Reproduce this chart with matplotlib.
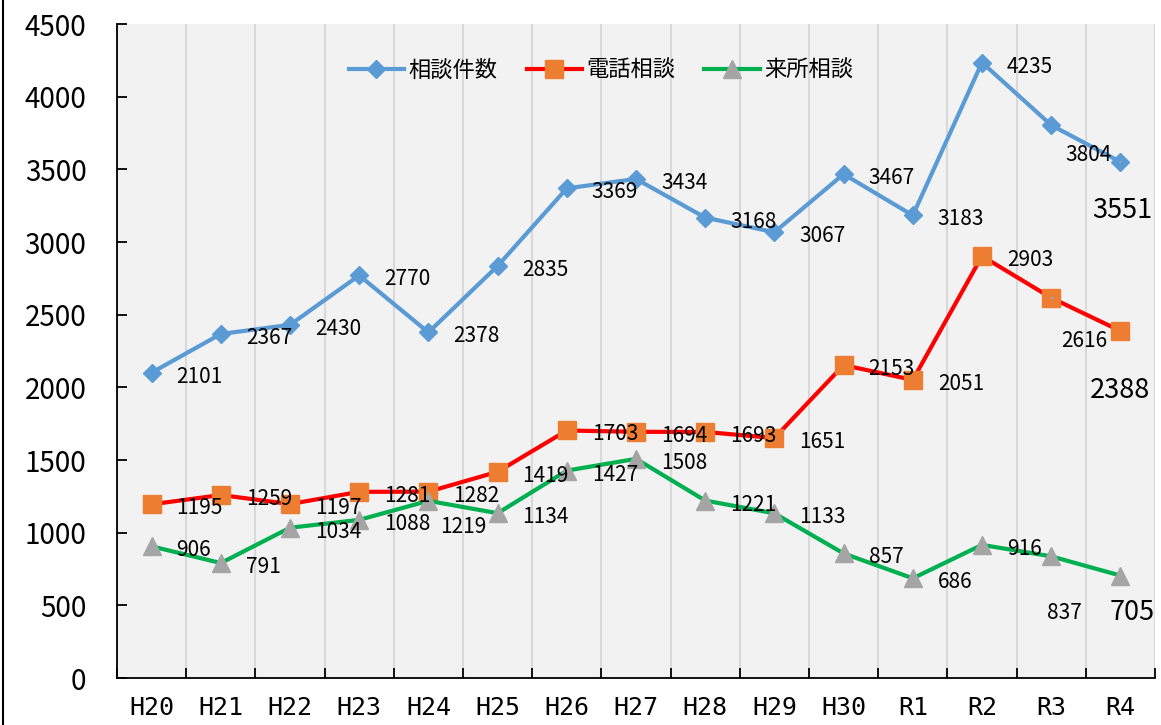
import numpy as np
import matplotlib
matplotlib.use("Agg")
import matplotlib.pyplot as plt
from matplotlib.lines import Line2D

plt.rcParams["font.family"] = ["Noto Sans CJK JP", "DejaVu Sans"]

years = ["H20", "H21", "H22", "H23", "H24", "H25", "H26", "H27", "H28", "H29",
         "H30", "R1", "R2", "R3", "R4"]
total = [2101, 2367, 2430, 2770, 2378, 2835, 3369, 3434, 3168, 3067, 3467, 3183, 4235, 3804, 3551]
phone = [1195, 1259, 1197, 1281, 1282, 1419, 1703, 1694, 1693, 1651, 2153, 2051, 2903, 2616, 2388]
visit = [906, 791, 1034, 1088, 1219, 1134, 1427, 1508, 1221, 1133, 857, 686, 916, 837, 705]
names = ["相談件数", "電話相談", "来所相談"]

# label placement exceptions: (dx, dy) in pixels of label centre, big font, leader (x0, y0, x1, y1)
special = {
    (0, 13): (37, -30, False, None),
    (0, 14): (2, -49, True, (0, -6, 2, -25)),
    (1, 13): (33, -43, False, (2, -3, 32, -21)),
    (1, 14): (0, -60, True, (0, -5, 0, -34)),
    (2, 4): (35, -26, False, None),
    (2, 13): (13, -57, False, (2, -8, 15, -35)),
    (2, 14): (12, -37, True, (2, -4, 12, -12)),
}

fig = plt.figure(figsize=(11.61, 7.25), dpi=100)
ax = fig.add_axes([117 / 1161, 1 - 678 / 725, (1155 - 117) / 1161, (678 - 24) / 725])
ax.set_facecolor("#f2f2f2")

x = np.arange(len(years))
styles = [
    dict(color="#5b9bd5", marker="D", ms=9, mfc="#5b9bd5", mec="#5b9bd5"),
    dict(color="#ff0000", marker="s", ms=12.5, mfc="#ed7d31", mec="#ed7d31"),
    dict(color="#00b050", marker="^", ms=12.5, mfc="#a5a5a5", mec="#a5a5a5"),
]
for s, (vals, name, st) in enumerate(zip([total, phone, visit], names, styles)):
    ax.plot(x, vals, lw=3, label=name, zorder=3, **st)
    for i, v in enumerate(vals):
        if (s, i) in special:
            dx, dy, big, lead = special[(s, i)]
            ax.annotate(str(v), (i, v), xytext=(dx, dy), textcoords="offset pixels",
                        ha="center", va="center", fontsize=19.5 if big else 15, zorder=4)
            if lead is not None:
                x0, y0, x1, y1 = lead
                p = ax.transData.transform((i, v))
                q0 = ax.transData.inverted().transform((p[0] + x0, p[1] + y0))
                q1 = ax.transData.inverted().transform((p[0] + x1, p[1] + y1))
                ax.plot([q0[0], q1[0]], [q0[1], q1[1]], color="#a6a6a6", lw=1.3, zorder=4)
        else:
            ax.annotate(str(v), (i, v), xytext=(25, -4), textcoords="offset pixels",
                        ha="left", va="center", fontsize=15, zorder=4)

ax.set_xlim(-0.5, len(years) - 0.5)
ax.set_ylim(0, 4500)
ax.set_yticks(np.arange(0, 4501, 500))
ax.set_xticks(x)
ax.set_xticklabels(years, family="DejaVu Sans Mono", fontsize=18)
ax.set_xticks(np.arange(-0.5, len(years), 1), minor=True)
ax.tick_params(axis="x", which="major", length=0, pad=13)
ax.tick_params(axis="x", which="minor", direction="in", length=7, width=1.3)
ax.tick_params(axis="y", direction="in", length=7, width=1.3, labelsize=20, pad=22)
ax.grid(axis="x", which="minor", color="#d9d9d9", lw=1.5, zorder=0)
for sp in ["top", "right"]:
    ax.spines[sp].set_visible(False)
for sp in ["left", "bottom"]:
    ax.spines[sp].set_linewidth(1.3)

fig.legend(loc="center", bbox_to_anchor=(601 / 1161, 1 - 70 / 725), ncol=3, frameon=False,
           prop={"size": 16}, handlelength=2.5,
           handletextpad=0.2, columnspacing=1.3)

fig.add_artist(Line2D([3 / 1161, 3 / 1161], [0, 1], transform=fig.transFigure, color="black", lw=1.5))

fig.savefig("out.png", dpi=100)
